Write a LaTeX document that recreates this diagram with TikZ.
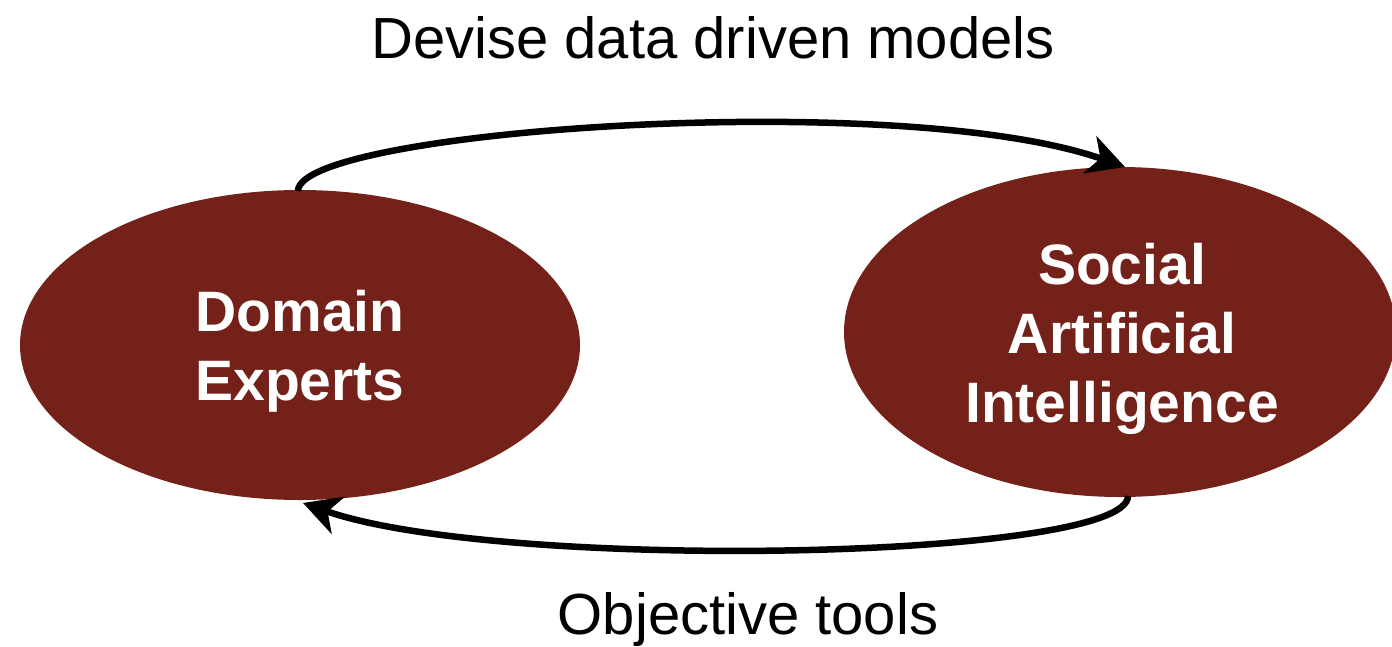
\documentclass[tikz,border=0pt]{standalone}
\usepackage{fontspec}
\setmainfont{Liberation Sans}
\usetikzlibrary{shapes.geometric,arrows.meta}
\definecolor{blob}{HTML}{74211A}
\tikzset{
  blobnode/.style={ellipse, fill=blob, draw=none, inner sep=0pt, text=white,
    font=\bfseries\fontsize{57}{69}\selectfont, align=center},
  caption/.style={font=\fontsize{58}{60}\selectfont, text=black, inner sep=0pt, anchor=base},
  flow/.style={line width=6.5pt, -{Stealth[length=37pt,width=39pt,inset=11pt]}}
}
\begin{document}
\begin{tikzpicture}[x=1pt,y=-1pt]
\useasboundingbox (0,0) rectangle (1392,646);
\node[blobnode, minimum width=560pt, minimum height=310pt] (de) at (300,345) {};
\node[blobnode, minimum width=552pt, minimum height=330pt] (sai) at (1120,332) {};
\node[blobnode, fill=none] (detext) at (300,351) {Domain\\Experts};
\node[blobnode, fill=none] (saitext) at (1122,339) {Social\\Artificial\\Intelligence};
\coordinate (a1) at (298,191);
\coordinate (a2) at (1125,167);
\coordinate (b1) at (1128,496);
\coordinate (b2) at (303,503);
\draw[flow] (a1) .. controls (298,130) and (900,88) .. (a2);
\draw[flow] (b1) .. controls (1128,560) and (500,572) .. (b2);
\node[caption] (top) at (713,58) {Devise data driven models};
\node[caption] (bot) at (748,634) {Objective tools};
\end{tikzpicture}
\end{document}
